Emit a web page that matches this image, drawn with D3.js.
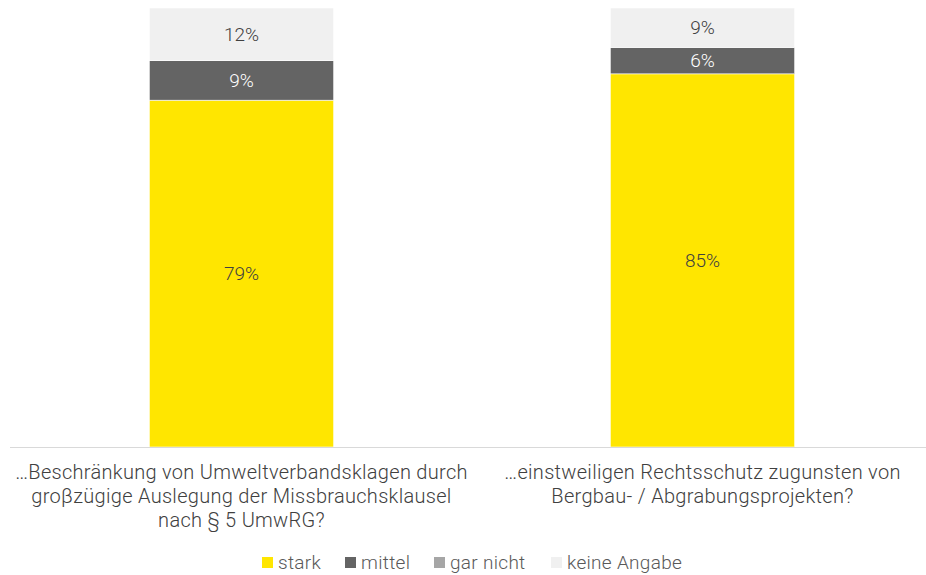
<!DOCTYPE html>
<html>
<head>
<meta charset="utf-8">
<script src="https://cdn.jsdelivr.net/npm/d3@7"></script>
<style>
  body { margin: 0; background: #fff; }
  svg text { font-family: Roboto, "Liberation Sans", sans-serif; font-weight: 300; }
</style>
</head>
<body>
<div id="chart"></div>
<script>
var categories = [
  ["…Beschränkung von Umweltverbandsklagen durch", "groβzügige Auslegung der Missbrauchsklausel", "nach § 5 UmwRG?"],
  ["…einstweiligen Rechtsschutz zugunsten von", "Bergbau- / Abgrabungsprojekten?"]
];
var seriesNames = ["stark", "mittel", "gar nicht", "keine Angabe"];
var stark = [79, 85],
    mittel = [9, 6],
    garNicht = [0, 0],
    keineAngabe = [12, 9];
var seriesColors = ["#FFE600", "#646464", "#A6A6A6", "#F0F0F0"];
var labelColors = ["#404040", "#ffffff", "#404040", "#404040"];

var width = 926, height = 575;
var margin = {top: 9, bottom: 128, left: 11};
var plotBottom = height - margin.bottom;

var rows = categories.map(function(c, i) {
  return {id: i, "stark": stark[i], "mittel": mittel[i], "gar nicht": garNicht[i], "keine Angabe": keineAngabe[i]};
});

var stacked = d3.stack().keys(seriesNames)(rows);

var x = d3.scaleBand()
    .domain(d3.range(categories.length))
    .range([margin.left, 933])
    .paddingInner(0.6)
    .paddingOuter(0.3);

var y = d3.scaleLinear().domain([0, 100]).range([plotBottom, margin.top - 1]);
var color = d3.scaleOrdinal().domain(seriesNames).range(seriesColors);

var svg = d3.select("#chart").append("svg")
    .attr("width", width)
    .attr("height", height);

var layer = svg.selectAll(".layer")
  .data(stacked)
  .enter().append("g")
    .attr("class", "layer")
    .attr("fill", function(d) { return color(d.key); });

layer.selectAll("rect")
  .data(function(d) { return d; })
  .enter().append("rect")
    .attr("x", function(d, i) { return x(i); })
    .attr("width", x.bandwidth())
    .attr("y", function(d) { return y(d[1]); })
    .attr("height", function(d) { return y(d[0]) - y(d[1]); })
    .attr("stroke", "#ffffff")
    .attr("stroke-width", function(d) { return d[1] > d[0] ? 0.6 : 0; });

// value labels
stacked.forEach(function(s, si) {
  svg.append("g").selectAll("text")
    .data(s.filter(function(d) { return d[1] > d[0]; }))
    .enter().append("text")
      .attr("x", function(d) { return x(d.data.id) + x.bandwidth() / 2; })
      .attr("y", function(d) { return (y(d[0]) + y(d[1])) / 2; })
      .attr("dy", "0.35em")
      .attr("text-anchor", "middle")
      .style("font-size", "19px")
      .attr("fill", labelColors[si])
      .text(function(d) { return (d[1] - d[0]) + "%"; });
});

// baseline
svg.append("line")
    .attr("x1", margin.left - 1).attr("x2", width)
    .attr("y1", plotBottom + 0.5).attr("y2", plotBottom + 0.5)
    .attr("stroke", "#d9d9d9")
    .attr("stroke-width", 1);

// category labels
var catLabel = svg.append("g").selectAll("text")
  .data(categories)
  .enter().append("text")
    .attr("x", function(d, i) { return x(i) + x.bandwidth() / 2; })
    .attr("y", plotBottom + 32)
    .attr("text-anchor", "middle")
    .attr("fill", "#404040")
    .style("font-size", "20px")
    .style("letter-spacing", "0.3px");

catLabel.selectAll("tspan")
  .data(function(d) { return d; })
  .enter().append("tspan")
    .attr("x", function() { return d3.select(this.parentNode).attr("x"); })
    .attr("dy", function(d, i) { return i === 0 ? 0 : 24; })
    .text(function(d) { return d; });

// legend
var legendX = [262, 345, 434, 551];
var legend = svg.append("g").selectAll("g")
  .data(seriesNames)
  .enter().append("g")
    .attr("transform", function(d, i) { return "translate(" + legendX[i] + ",562)"; });

legend.append("rect")
    .attr("x", 0).attr("y", -5)
    .attr("width", 11).attr("height", 11)
    .attr("fill", function(d) { return color(d); });

legend.append("text")
    .attr("x", 16)
    .attr("dy", "0.35em")
    .attr("fill", "#595959")
    .style("font-size", "19px")
    .style("letter-spacing", "0.3px")
    .text(function(d) { return d; });
</script>
</body>
</html>
